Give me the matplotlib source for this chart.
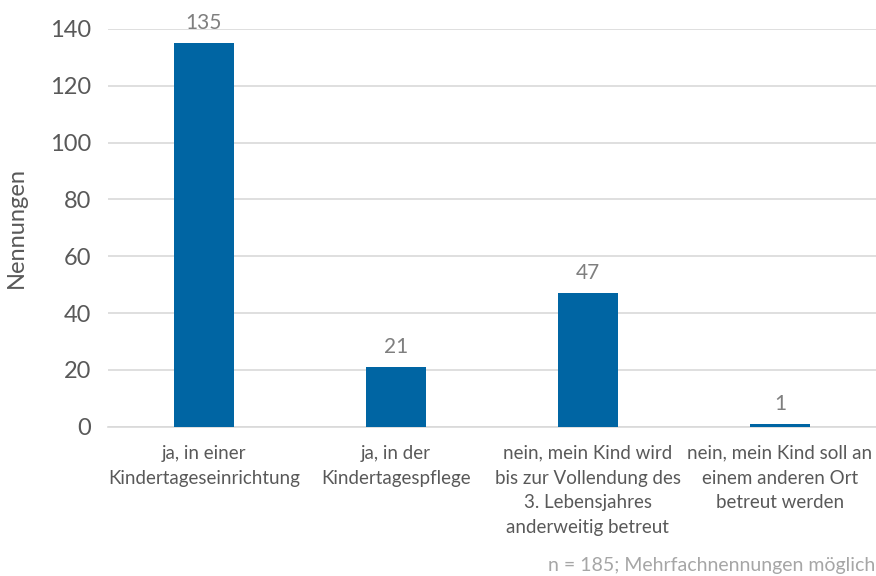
import matplotlib.pyplot as plt

plt.rcParams['font.family'] = ['Lato', 'DejaVu Sans']

categories = [
    'ja, in einer\nKindertageseinrichtung',
    'ja, in der\nKindertagespflege',
    'nein, mein Kind wird\nbis zur Vollendung des\n3. Lebensjahres\nanderweitig betreut',
    'nein, mein Kind soll an\neinem anderen Ort\nbetreut werden',
]
counts = [135, 21, 47, 1]
y_ticks = [0, 20, 40, 60, 80, 100, 120, 140]

bar_color = '#0065a3'
text_color = '#595959'

fig = plt.figure(figsize=(8.76, 5.76), dpi=100)
ax = fig.add_axes([0.123, 0.259, 0.877, 0.691])

x = range(len(categories))
bars = ax.bar(x, counts, width=0.31, color=bar_color, zorder=3)
ax.bar_label(bars, labels=[str(c) for c in counts], padding=7,
             fontsize=15, color='#7f7f7f')

ax.set_xlim(-0.5, len(categories) - 0.5)
ax.set_ylim(0, 140)
ax.set_yticks(y_ticks)
ax.yaxis.grid(True, color='#d9d9d9', linewidth=1.2, zorder=0)
ax.set_axisbelow(True)

for side in ['top', 'right', 'left']:
    ax.spines[side].set_visible(False)
ax.spines['bottom'].set_color('#d9d9d9')
ax.spines['bottom'].set_linewidth(1.2)

ax.set_xticks(list(x))
ax.set_xticklabels(categories, fontsize=13.5, color=text_color, linespacing=1.55)
ax.tick_params(axis='x', length=0, pad=13)
ax.tick_params(axis='y', length=0, pad=12, labelsize=17, labelcolor=text_color)

ax.set_ylabel('Nennungen', fontsize=17, color=text_color)
ax.yaxis.set_label_coords(-0.105, 0.5)

fig.text(0.999, 0.004, 'n = 185; Mehrfachnennungen möglich',
         ha='right', va='bottom', fontsize=14, color='#a6a6a6')

fig.savefig('out.png', dpi=100)
